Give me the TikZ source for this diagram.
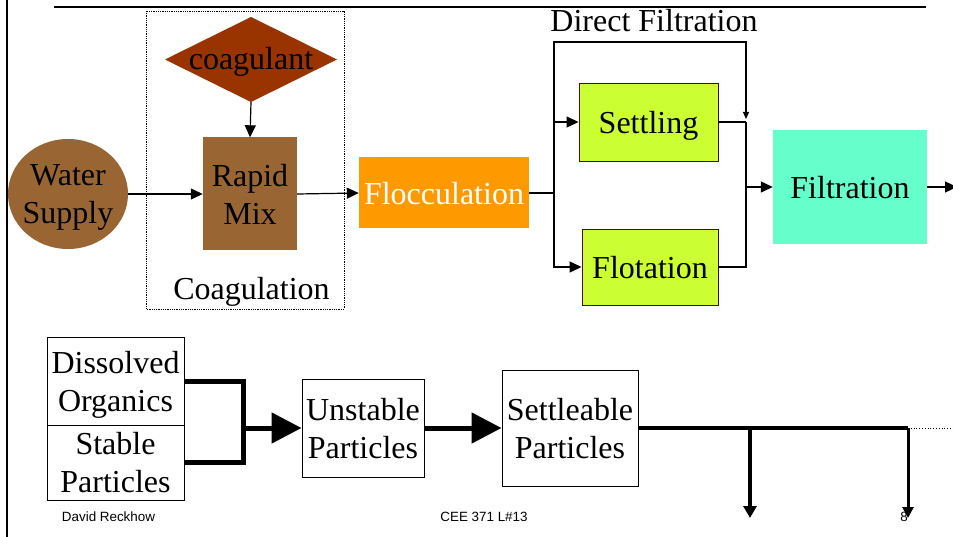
\documentclass[tikz,border=0pt]{standalone}
\usepackage{fontspec}
\setmainfont{Liberation Serif}
\newfontfamily\footfont{Liberation Sans}
\usetikzlibrary{shapes.geometric,arrows.meta}
\definecolor{brownbox}{HTML}{996633}
\definecolor{coagcol}{HTML}{993300}
\definecolor{floccol}{HTML}{FF9900}
\definecolor{limecol}{HTML}{CCFF33}
\definecolor{aquacol}{HTML}{66FFCC}
\definecolor{limeborder}{HTML}{660000}
\begin{document}
\begin{tikzpicture}[x=1pt,y=-1pt,
  lbl/.style={font=\fontsize{32}{38}\selectfont, align=center, inner sep=0pt, text depth=0pt},
  conn/.style={line width=1.2pt, -{Triangle[length=12pt,width=11pt]}},
  smallarr/.style={line width=1.2pt, -{Triangle[length=7pt,width=6pt]}},
  plainline/.style={line width=1.2pt},
  heavy/.style={line width=5pt},
  heavyarr/.style={line width=5pt, -{Triangle[length=30pt,width=30pt]}},
  droparr/.style={line width=4pt, -{Triangle[length=12pt,width=13pt]}},
  footer/.style={font=\footfont\fontsize{13.4}{15}\selectfont, inner sep=0pt, anchor=base}
]
\useasboundingbox (0,0) rectangle (953,537);

% frame lines
\draw[line width=2pt] (54,7) -- (926,7);
\draw[line width=2.2pt] (7,0) -- (7,537);

% coagulation group
\draw[densely dotted, line width=0.8pt] (146,11) rectangle (344,309);
\node[lbl, anchor=base] (coaglbl) at (251.5,300) {Coagulation};

% coagulant diamond
\fill[coagcol] (165,59.5) -- (251,17) -- (337,59.5) -- (251,102) -- cycle;
\coordinate (coagB) at (251,102);
\node[lbl, anchor=base] (coag) at (251,70) {coagulant};

% water supply
\node[lbl, ellipse, fill=brownbox, inner xsep=-3pt, minimum width=120pt, minimum height=110pt] (ws) at (68,194) {Water\\Supply};
% rapid mix
\node[lbl, rectangle, fill=brownbox, minimum width=94pt, minimum height=113pt] (rapid) at (250,194) {Rapid\\Mix};
% flocculation
\node[lbl, rectangle, fill=floccol, text=white, minimum width=170pt, minimum height=71pt] (floc) at (444,193) {Flocculation};
% settling, flotation
\node[lbl, rectangle, fill=limecol, draw=limeborder, line width=0.9pt, minimum width=139pt, minimum height=78pt] (settle) at (648.5,122) {Settling};
\node[lbl, rectangle, fill=limecol, draw=limeborder, line width=0.9pt, minimum width=136pt, minimum height=76pt] (flot) at (650,267) {Flotation};
% filtration
\node[lbl, rectangle, fill=aquacol, minimum width=154pt, minimum height=114pt] (filt) at (850,187) {Filtration};
\node[lbl, anchor=base] (dflbl) at (654,32) {Direct Filtration};

% connectors top
\draw[conn] (coagB) -- (rapid.north);
\draw[conn] (ws.east) -- (rapid.west);
\draw[conn] (rapid.east) -- (floc.west);
\coordinate (split) at (554,193);
\coordinate (dfA) at (554,42);
\coordinate (dfB) at (746,42);
\coordinate (dfC) at (746,119);
\coordinate (joinS) at (746,122);
\coordinate (joinM) at (746,187);
\coordinate (outR) at (957,187);
\draw[plainline] (floc.east) -- (split);
\draw[conn] (split) |- (settle.west);
\draw[conn] (split) |- (flot.west);
\draw[smallarr] (split) -- (dfA) -- (dfB) -- (dfC);
\draw[plainline] (settle.east) -- (joinS);
\draw[plainline] (flot.east) -| (joinS);
\draw[conn] (joinM) -- (filt.west);
\draw[conn] (filt.east) -- (outR);

% bottom boxes
\node[lbl, rectangle, draw, line width=1pt, minimum width=137pt, minimum height=88pt] (diss) at (115.5,381) {Dissolved\\Organics};
\node[lbl, rectangle, draw, line width=1pt, minimum width=137pt, minimum height=75pt] (stab) at (115.5,462.5) {Stable\\Particles};
\node[lbl, rectangle, draw, line width=1pt, minimum width=122pt, minimum height=98pt] (unst) at (363,428) {Unstable\\Particles};
\node[lbl, rectangle, draw, line width=1pt, minimum width=136pt, minimum height=116pt] (settl) at (570,428) {Settleable\\Particles};

\coordinate (brk) at (243,428);
\draw[heavy, line join=miter] (diss.east) -| (brk) |- (stab.east);
\draw[heavyarr] (brk) -- (unst.west);
\draw[heavyarr] (unst.east) -- (settl.west);
\coordinate (dropA) at (750,428);
\coordinate (dropB) at (908,428);
\coordinate (dropAe) at (750,518);
\coordinate (dropBe) at (908,518);
\coordinate (dotEnd) at (953,428);
\draw[line width=4.5pt] (settl.east) -- (dropA);
\draw[line width=4pt] (dropA) -- (dropB);
\draw[droparr] (dropA) -- (dropAe);
\draw[line width=3pt, -{Triangle[length=11pt,width=11pt]}] (dropB) -- (dropBe);
\draw[dotted, line width=0.8pt] (dropB) -- (dotEnd);

% footer
\node[footer] (f1) at (108.5,521) {David Reckhow};
\node[footer] (f2) at (484,521) {CEE 371 L\#13};
\node[footer] (f3) at (904,521) {8};
\end{tikzpicture}
\end{document}
